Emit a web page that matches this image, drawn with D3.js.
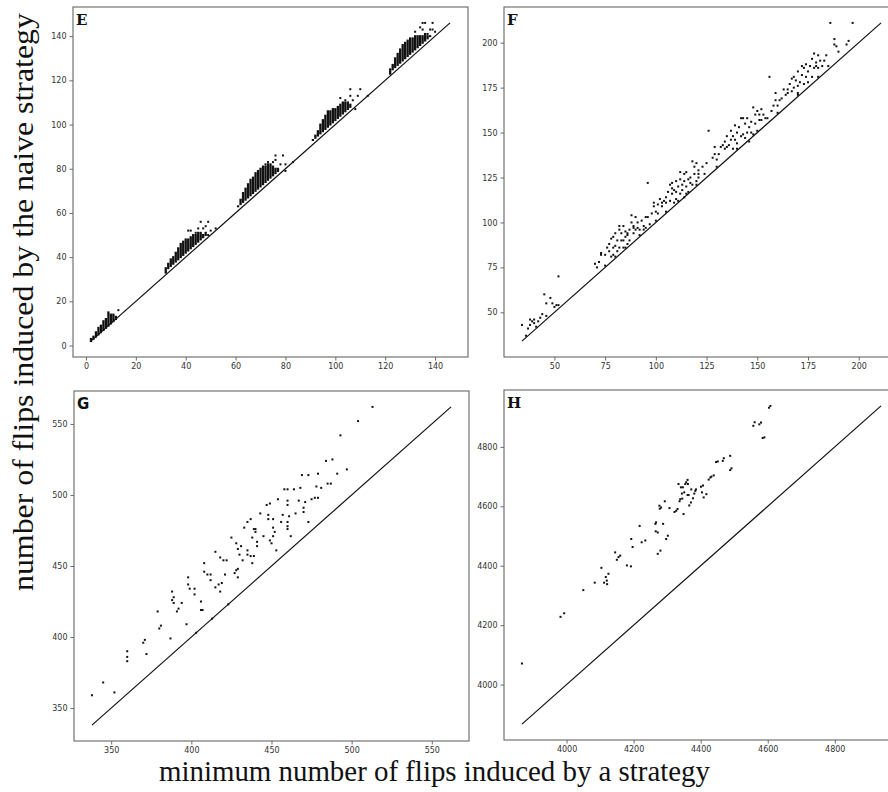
<!DOCTYPE html>
<html><head><meta charset="utf-8">
<script src="https://cdn.jsdelivr.net/npm/d3@7"></script>
<style>body{margin:0;background:#fff}svg{display:block}</style>
</head><body>
<svg id="c" width="888" height="792"></svg>
<script>
// ---------------- DATA ----------------
const panelLetters = ["E", "F", "G", "H"];
const xLabel = "minimum number of flips induced by a strategy";
const yLabel = "number of flips induced by the naive strategy";

// Panel E: dense integer columns (x, lowest y, highest y) + scattered outliers
const eColX  = [2,3,4,5,6,7,8,9,10,11,12,
  32,33,34,35,36,37,38,39,40,41,42,43,44,45,46,47,48,
  61,62,63,64,65,66,67,68,69,70,71,72,73,74,75,76,77,
  91,92,93,94,95,96,97,98,99,100,101,102,103,104,105,106,
  122,123,124,125,126,127,128,129,130,131,132,133,134,135,136,137,138];
const eColLo = [2,3,4,5,6,7,8,9,10,11,12,
  33,35,36,37,38,39,40,41,42,43,44,45,46,47,48,49,50,
  63,64,65,66,67,68,69,70,71,72,73,74,75,76,77,78,79,
  93,94,95,96,97,98,99,100,101,102,103,104,105,106,107,108,
  123,125,126,127,128,129,130,131,132,133,134,135,136,137,138,139,140];
const eColHi = [3,4,6,8,9,11,12,15,14,14,13,
  35,37,39,40,42,44,46,47,48,48,49,50,50,51,51,50,51,
  63,66,69,71,73,75,76,78,79,80,81,81,82,82,81,80,80,
  93,95,97,100,102,104,106,106,107,107,108,109,110,110,110,109,
  125,127,130,132,134,136,137,138,139,139,140,140,140,140,141,140,140];
const eOutX = [13, 41,42,44,45,46,47,48,49,49,50,52,
  72,73,75,76,76,78,79,80,80,83,
  102,104,106,106,107,108,109,110,113,
  132,134,135,135,136,137,138,139,139,140];
const eOutY = [16, 52,52,51,53,56,53,54,56,50,52,53,
  82,83,83,86,84,82,86,82,79,83,
  112,111,113,116,111,107,113,116,113,
  142,144,146,143,146,141,143,146,143,142];

// Panel F
const fX = [34,36,37,38,39,40,38,40,41,42,43,44,45,46,46,48,49,50,51,52,52,
  70,71,72,73,73,75,76,77,77,78,78,79,79,79,80,80,81,81,82,82,82,83,83,84,84,84,85,85,86,86,86,87,87,88,88,89,89,89,90,90,91,91,92,93,94,94,95,95,96,96,97,
  98,99,99,100,101,101,102,103,103,104,105,105,106,107,107,108,108,108,109,109,110,110,110,111,111,112,112,112,113,113,114,114,114,115,115,116,116,117,117,118,118,119,119,120,120,121,121,121,123,124,125,126,
  128,129,129,130,131,132,133,134,134,135,135,136,137,137,138,138,139,139,140,140,141,142,142,143,143,144,144,145,145,146,146,147,147,148,148,149,149,150,151,151,152,152,153,154,155,156,157,158,159,159,160,161,162,163,164,165,165,166,167,167,168,168,169,170,170,170,171,172,172,173,173,174,174,175,175,176,177,177,178,178,179,179,180,180,181,182,183,184,185,186,188,188,189,190,194,195,197,
  75,80,85,92,100,105,115,120,130,140,150,160,170,180];
const fY = [43,37,41,43,45,46,46,44,42,45,47,49,60,55,48,58,55,53,54,70,54,
  77,75,78,82,83,82,86,84,88,91,81,92,86,82,94,87,84,90,96,86,98,90,94,86,98,90,95,92,88,94,93,96,90,104,100,94,97,98,103,96,100,97,96,101,96,98,97,103,122,103,99,
  105,111,109,106,110,105,113,111,109,112,114,111,117,121,112,119,116,122,111,118,113,123,117,120,112,124,116,128,121,118,114,127,123,120,128,117,124,122,125,134,121,127,131,123,133,129,125,127,131,127,133,151,
  136,142,138,135,138,142,143,141,145,142,148,143,151,146,141,148,154,146,150,144,153,148,158,149,158,147,155,150,158,145,153,150,156,164,149,160,155,162,157,160,163,157,160,158,158,181,162,165,172,168,165,168,169,174,171,174,172,177,180,173,181,175,179,172,184,176,178,187,182,177,186,181,188,178,184,187,181,191,194,186,189,187,193,186,190,187,190,193,187,211,199,202,198,195,199,201,211,
  76,81,86,93,101,106,116,121,131,141,151,161,171,181];

// Panel G
const gX = [338,345,352,360,360,360,370,371,372,379,380,381,387,388,388,389,389,391,392,394,397,398,398,399,402,402,403,406,406,407,408,408,410,412,412,413,415,415,417,418,418,419,420,421,422,423,425,427,428,428,429,429,429,430,431,432,433,435,435,435,437,437,438,438,439,439,440,440,441,441,443,445,447,448,448,449,449,450,451,451,451,452,453,454,456,457,458,460,460,460,460,460,460,461,462,464,465,467,468,469,470,470,471,473,473,475,477,478,479,479,481,484,485,487,488,491,493,497,504,513];
const gY = [359,368,361,390,386,383,396,398,388,418,406,408,399,432,426,428,424,418,420,424,409,442,437,434,434,430,403,425,419,419,452,446,444,444,440,413,460,435,437,456,432,438,454,444,454,423,470,445,447,466,462,448,442,458,464,454,477,481,461,458,483,457,470,452,476,457,476,474,467,464,487,471,493,486,483,494,468,466,483,477,471,474,461,497,481,486,504,504,496,478,476,481,493,485,471,504,487,496,505,514,488,491,495,481,514,497,498,506,515,498,505,524,508,508,525,515,542,518,552,562];

// Panel H
const hX = [3867,3982,3993,4050,4084,4104,4112,4117,4120,4121,4125,4145,4150,4155,4160,4180,4192,4193,4197,4218,4224,4235,4265,4267,4266,4272,4272,4277,4278,4280,4282,4288,4293,4297,4302,4307,4322,4327,4331,4334,4337,4339,4341,4344,4345,4347,4349,4351,4354,4357,4361,4361,4362,4364,4366,4371,4372,4377,4381,4384,4386,4401,4404,4407,4409,4417,4424,4429,4432,4439,4446,4451,4466,4469,4488,4488,4492,4557,4561,4575,4580,4585,4590,4604,4608];
const hY = [4071,4228,4240,4318,4343,4393,4343,4362,4350,4338,4373,4445,4420,4429,4434,4401,4398,4490,4463,4534,4479,4485,4541,4546,4516,4512,4440,4602,4592,4451,4596,4541,4617,4490,4501,4594,4581,4585,4591,4675,4617,4624,4664,4643,4626,4664,4574,4647,4675,4681,4689,4638,4675,4638,4603,4613,4657,4627,4643,4652,4657,4666,4647,4670,4630,4641,4690,4697,4700,4704,4749,4751,4753,4762,4770,4722,4728,4871,4883,4876,4882,4830,4832,4932,4938];

const eTicks = [0,20,40,60,80,100,120,140];
const fTicks = [50,75,100,125,150,175,200];
const gTicks = [350,400,450,500,550];
const hTicks = [4000,4200,4400,4600,4800];

// ---------------- LAYOUT ----------------
const svg = d3.select("#c");
const PW = 395, PH = 350;
const lefts = [73, 504, 74, 504];
const tops = [7, 7, 391, 390];
const letterFonts = ["DejaVu Serif", "DejaVu Serif", "DejaVu Sans", "DejaVu Serif"];

function panel(i, xs, ys, ticks, cols) {
  const L = lefts[i], T = tops[i];
  let allX = xs.slice(), allY = ys.slice();
  if (cols) { allX = allX.concat(cols.x); allY = allY.concat(cols.hi); }
  const lo = d3.min(allX), hi = d3.max(allY);
  const pad = 0.05 * (hi - lo);
  const dom = [lo - pad, hi + pad];
  const x = d3.scaleLinear().domain(dom).range([L, L + PW]);
  const y = d3.scaleLinear().domain(dom).range([T + PH, T]);
  const g = svg.append("g");

  // diagonal y = x line
  g.append("line")
    .attr("x1", x(lo)).attr("y1", y(lo)).attr("x2", x(hi)).attr("y2", y(hi))
    .attr("stroke", "#111").attr("stroke-width", 1.2);

  if (cols) {
    g.selectAll("rect.col").data(cols.x.map((v, k) => ({x: v, lo: cols.lo[k], hi: cols.hi[k]})))
      .enter().append("rect")
      .attr("x", d => x(d.x) - 1.15)
      .attr("y", d => y(d.hi) - 1)
      .attr("width", 2.3)
      .attr("height", d => y(d.lo) - y(d.hi) + 2)
      .attr("fill", "#111");
  }
  g.selectAll("rect.pt").data(xs.map((v, k) => [v, ys[k]]))
    .enter().append("rect")
    .attr("x", d => x(d[0]) - 1).attr("y", d => y(d[1]) - 1)
    .attr("width", 2).attr("height", 2).attr("fill", "#111");

  // axes
  const fmt = d3.format("d");
  const ax = g.append("g").attr("transform", `translate(0,${T + PH})`)
    .call(d3.axisBottom(x).tickValues(ticks).tickFormat(fmt).tickSize(3.5).tickPadding(3));
  const ay = g.append("g").attr("transform", `translate(${L},0)`)
    .call(d3.axisLeft(y).tickValues(ticks).tickFormat(fmt).tickSize(3.5).tickPadding(3));
  [ax, ay].forEach(a => {
    a.select(".domain").remove();
    a.selectAll("line").attr("stroke", "#444").attr("stroke-width", 0.8);
    a.selectAll("text").attr("font-family", "DejaVu Sans, sans-serif").attr("font-size", 8).attr("fill", "#333");
  });

  // frame
  g.append("rect").attr("x", L).attr("y", T).attr("width", PW).attr("height", PH)
    .attr("fill", "none").attr("stroke", "#666").attr("stroke-width", 1.1);

  // panel letter
  g.append("text").attr("x", L + 3).attr("y", T + 18)
    .attr("font-family", letterFonts[i]).attr("font-weight", "bold")
    .attr("font-size", 15).attr("fill", "#111")
    .text(panelLetters[i]);
}

panel(0, eOutX, eOutY, eTicks, {x: eColX, lo: eColLo, hi: eColHi});
panel(1, fX, fY, fTicks);
panel(2, gX, gY, gTicks);
panel(3, hX, hY, hTicks);

// axis titles
svg.append("text").attr("x", 434.5).attr("y", 781)
  .attr("text-anchor", "middle").attr("font-family", "Liberation Serif, serif")
  .attr("font-size", 28.5).attr("fill", "#111")
  .attr("textLength", 551).attr("lengthAdjust", "spacingAndGlyphs").text(xLabel);
svg.append("text").attr("transform", "translate(33,302) rotate(-90)")
  .attr("text-anchor", "middle").attr("font-family", "Liberation Serif, serif")
  .attr("font-size", 29).attr("fill", "#111")
  .attr("textLength", 578).attr("lengthAdjust", "spacingAndGlyphs").text(yLabel);
</script>
</body></html>
